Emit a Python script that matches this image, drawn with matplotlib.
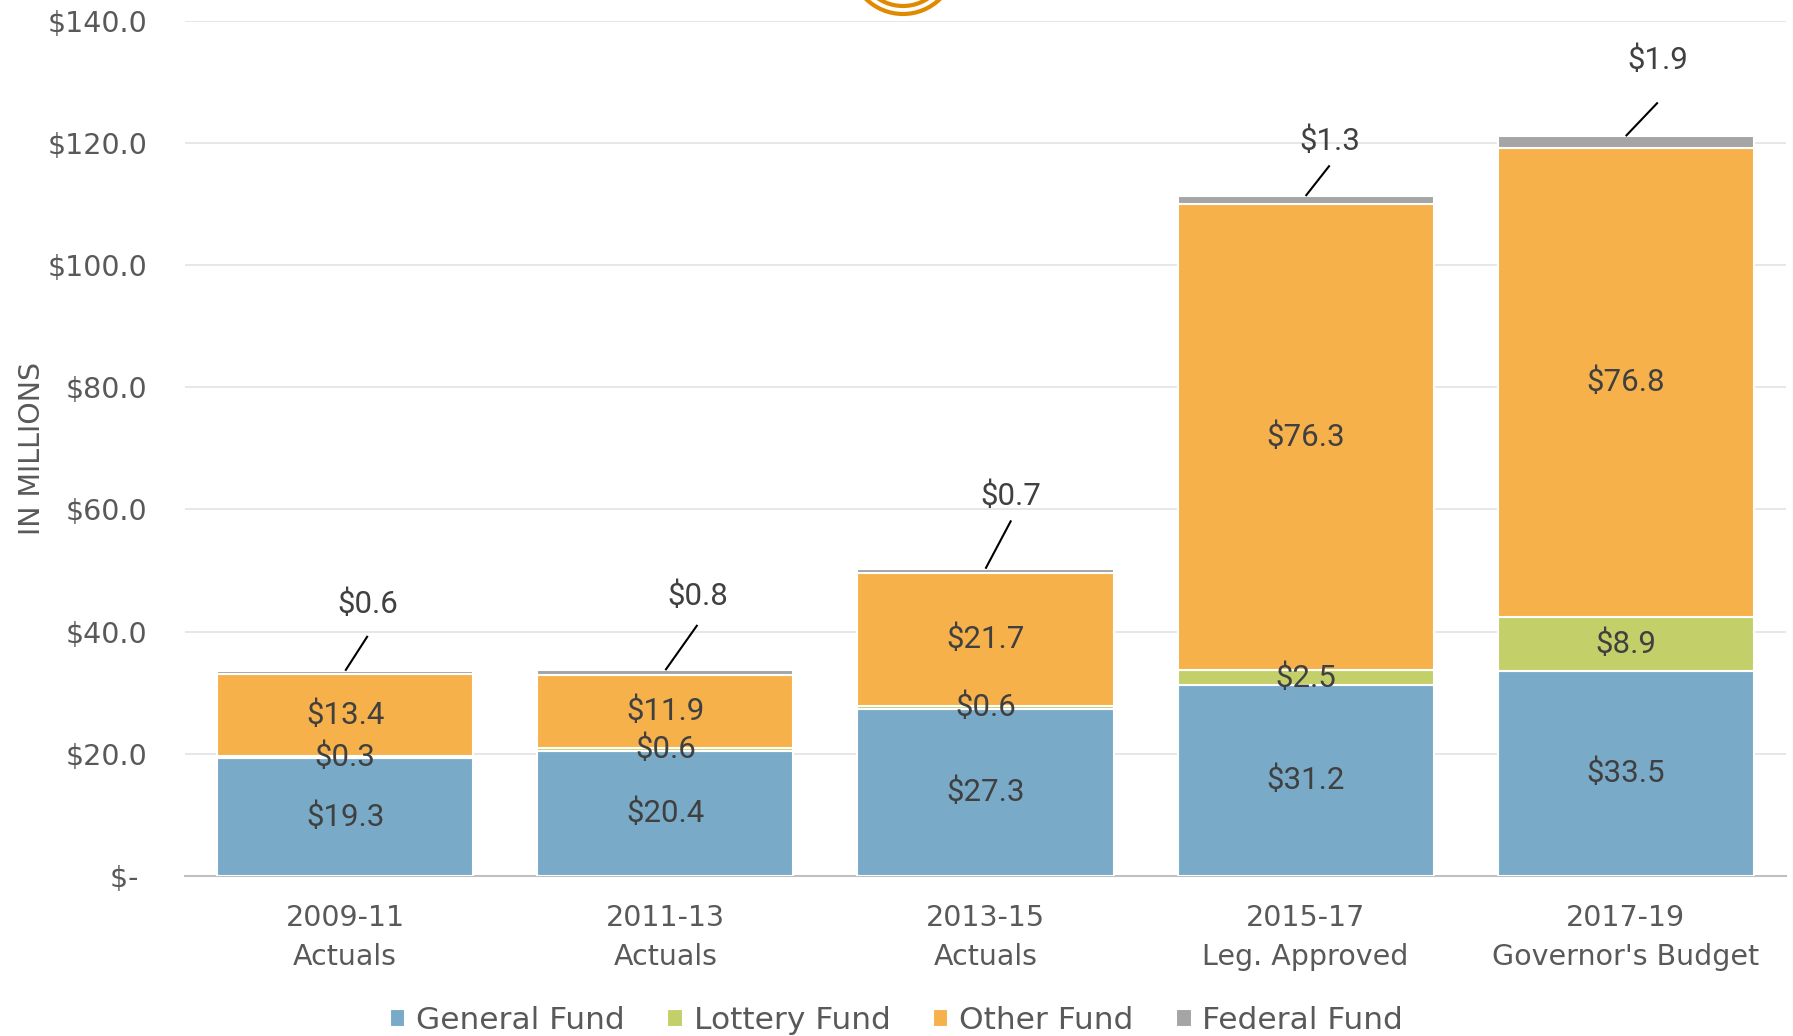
import numpy as np
import matplotlib.pyplot as plt
from matplotlib.patches import Circle

# data, in millions
periods = ['2009-11\nActuals', '2011-13\nActuals', '2013-15\nActuals',
           '2015-17\nLeg. Approved', "2017-19\nGovernor's Budget"]
general_fund = [19.3, 20.4, 27.3, 31.2, 33.5]
lottery_fund = [0.3, 0.6, 0.6, 2.5, 8.9]
other_fund = [13.4, 11.9, 21.7, 76.3, 76.8]
federal_fund = [0.6, 0.8, 0.7, 1.3, 1.9]
yticks = [0, 20, 40, 60, 80, 100, 120, 140]
ytick_labels = ['$- ', '$20.0', '$40.0', '$60.0', '$80.0', '$100.0', '$120.0', '$140.0']

# callout offsets for the federal labels (x in categories, y in millions)
fed_dx = [0.07, 0.10, 0.08, 0.075, 0.10]
fed_line_dy = [5.7, 7.4, 7.9, 5.0, 5.5]
fed_text_dy = [10.8, 12.1, 11.9, 8.9, 12.4]

colors = ['#79ABC9', '#C3D069', '#F6B14B', '#A5A5A5']
names = ['General Fund', 'Lottery Fund', 'Other Fund', 'Federal Fund']
txt = '#404040'
axc = '#595959'

fig = plt.figure(figsize=(17.93, 10.36), dpi=100)
ax = fig.add_axes([0.1033, 0.1544, 0.8927, 0.8257])

x = np.arange(len(periods))
series = [general_fund, lottery_fund, other_fund, federal_fund]
bottom = np.zeros(len(periods))
for vals, c, n in zip(series, colors, names):
    ax.bar(x, vals, width=0.8, bottom=bottom, color=c, edgecolor='white',
           linewidth=1.5, label=n, zorder=3)
    bottom = bottom + np.array(vals)

lab_font = dict(family=['Roboto', 'DejaVu Sans'], fontsize=22.5, color=txt)
base = np.zeros(len(periods))
for vals in series[:3]:
    for i, v in enumerate(vals):
        ax.text(x[i], base[i] + v / 2, f'${v:.1f}', ha='center', va='center',
                zorder=5, **lab_font)
    base = base + np.array(vals)

for i, v in enumerate(federal_fund):
    top = bottom[i]
    ax.plot([x[i], x[i] + fed_dx[i]], [top, top + fed_line_dy[i]],
            color='black', lw=1.5, zorder=5, solid_capstyle='butt')
    ax.text(x[i] + fed_dx[i], top + fed_text_dy[i], f'${v:.1f}', ha='center',
            va='center', zorder=5, **lab_font)

ax.set_xlim(-0.5, len(periods) - 0.5)
ax.set_ylim(0, 140)
ax.set_yticks(yticks)
ax.set_yticklabels(ytick_labels, fontsize=20.5)
ax.set_xticks(x)
ax.set_xticklabels(periods, linespacing=1.5, fontsize=20.5)
ax.grid(axis='y', color='#E3E3E3', lw=1.2, zorder=0)
for s in ['top', 'right', 'left']:
    ax.spines[s].set_visible(False)
ax.spines['bottom'].set_color('#BFBFBF')
ax.spines['bottom'].set_linewidth(1.5)
ax.tick_params(axis='both', length=0, colors=axc)
ax.tick_params(axis='y', pad=27)
ax.tick_params(axis='x', pad=20)
for t in ax.get_xticklabels() + ax.get_yticklabels():
    t.set_color(axc)

ax.set_ylabel('IN MILLIONS', fontsize=20.5, color=axc,
              family=['Liberation Sans Narrow', 'DejaVu Sans'])
ax.yaxis.set_label_coords(-0.087, 0.5)

leg = fig.legend(loc='lower center', bbox_to_anchor=(0.5, -0.026), ncol=4,
                 frameon=False, fontsize=22.5, handlelength=0.5, handleheight=0.5,
                 handletextpad=0.35, columnspacing=1.35, labelcolor=axc)

# partial logo at the top edge
for r in [53, 45]:
    fig.patches.append(Circle((903, 1036 + 39), r, transform=None, fill=False,
                              edgecolor='#E08A00', lw=3))

fig.savefig('out.png', dpi=100)
